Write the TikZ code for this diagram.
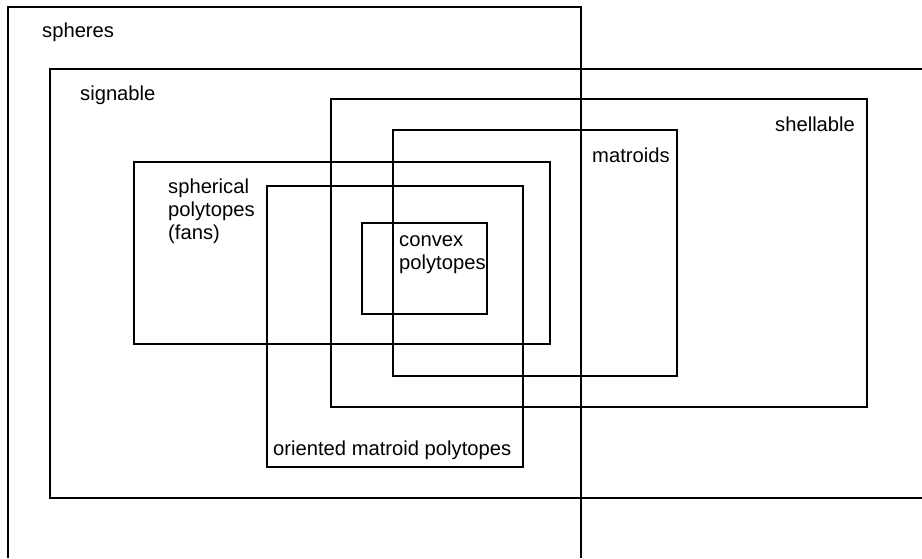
\documentclass[tikz,border=0pt]{standalone}
\usepackage{fontspec}
\setmainfont{Liberation Sans}
\begin{document}
\begin{tikzpicture}[x=1pt,y=-1pt,
  box/.style={draw=black,line width=1.2pt},
  lbl/.style={anchor=base west,inner sep=0pt,font=\fontsize{20.2}{23}\selectfont,align=left}]
\useasboundingbox[fill=white] (0,0) rectangle (922,558);
% spheres (open at bottom)
\draw[box] (8,558) -- (8,7) -- (581,7) -- (581,558);
% signable (open at right)
\draw[box] (922,69) -- (50,69) -- (50,498) -- (922,498);
% shellable
\draw[box] (331,99) rectangle (867,407);
% matroids
\draw[box] (393,130) rectangle (677,376);
% spherical polytopes
\draw[box] (134,162) rectangle (550,344);
% oriented matroid polytopes
\draw[box] (267,186) rectangle (523,467);
% convex polytopes
\draw[box] (362,223) rectangle (487,314);
\node[lbl] (tsph) at (42,37) {spheres};
\node[lbl] (tsig) at (80,100) {signable};
\node[lbl] (tshe) at (775,131) {shellable};
\node[lbl] (tmat) at (592,162) {matroids};
\node[lbl] (tspp) at (168,239) {spherical\\polytopes\\(fans)};
\node[lbl] (tcon) at (399,269) {convex\\polytopes};
\node[lbl] (tori) at (273,455) {oriented matroid polytopes};
\end{tikzpicture}
\end{document}
